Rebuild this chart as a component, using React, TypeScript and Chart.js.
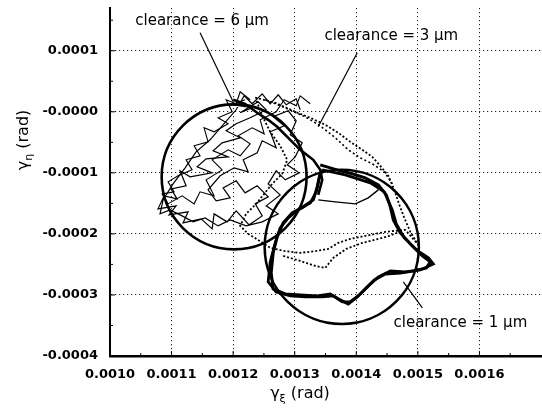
import { useEffect, useRef } from 'react';
import { Chart, registerables } from 'chart.js';

Chart.register(...registerables);

// ---- axis ticks ----
const xTickValues = [0.001, 0.0011, 0.0012, 0.0013, 0.0014, 0.0015, 0.0016];
const xTickLabels = ['0.0010', '0.0011', '0.0012', '0.0013', '0.0014', '0.0015', '0.0016'];
const yTickValues = [-0.0004, -0.0003, -0.0002, -0.0001, 0, 0.0001];
const yTickLabels = ['-0.0004', '-0.0003', '-0.0002', '-0.0001', '-0.0000', '0.0001'];

// ---- clearance circles (centre, radius in rad) ----
const circleCx = [0.0012016, 0.0013764];
const circleCy = [-0.0001066, -0.0002213];
const circleR = [0.0001177, 0.0001252];

// ---- clearance = 6 um trajectory ----
const traj6X = [
  0.0012195, 0.0011984, 0.0012309, 0.0012114, 0.0012406, 0.0012537, 0.0012276, 0.0012049, 0.0011886, 0.0012114,
  0.0011821, 0.0011675, 0.0011919, 0.0011561, 0.0011415, 0.0011659, 0.0011301, 0.0011138, 0.0011236, 0.0010992,
  0.0011089, 0.0010878, 0.001078, 0.0011073, 0.0010959, 0.0011268, 0.0011187, 0.001148, 0.0011659, 0.0011691,
  0.0011902, 0.0012049, 0.001226, 0.0012472, 0.0012358, 0.0012569, 0.001239, 0.0012195, 0.0012049, 0.0011837,
  0.0011951, 0.0011724, 0.0011593, 0.0011789, 0.0012016, 0.0012244, 0.0012163, 0.001239, 0.0012472, 0.0012699,
  0.0012602, 0.0012829, 0.001265, 0.0012894, 0.0013024, 0.0012927, 0.0013122, 0.0013008, 0.0012878, 0.0013073,
  0.0012846, 0.0012699, 0.0012569, 0.0012764, 0.0012537, 0.0012732, 0.0012472, 0.0012211, 0.0011951, 0.0011756,
  0.0011545, 0.001135, 0.0011171, 0.0010976, 0.0010813, 0.0010862, 0.0011024, 0.001122, 0.0011398, 0.0011626,
  0.0011821, 0.0012049, 0.0012179, 0.0012309, 0.0012472, 0.0012602, 0.0012732, 0.0012862, 0.0013024, 0.0013089,
];
const traj6Y = [
  0.0000197, 0.0000115, 0.0000066, -0.0000016, 0.0000164, 0.0000033, -0.0000098, -0.0000197, -0.0000311, -0.0000426,
  -0.0000508, -0.0000639, -0.0000738, -0.000077, -0.0000902, -0.0001, -0.0001066, -0.0000967, -0.0001213, -0.0001262,
  -0.0001426, -0.0001377, -0.000159, -0.0001541, -0.0001689, -0.0001639, -0.000182, -0.0001754, -0.0001918, -0.0001672,
  -0.0001803, -0.0001623, -0.0001852, -0.0001705, -0.0001508, -0.0001393, -0.0001213, -0.0001328, -0.0001131, -0.0001246,
  -0.000141, -0.0001459, -0.0001279, -0.0001049, -0.0000918, -0.0000984, -0.0000787, -0.0000672, -0.0000475, -0.000059,
  -0.0000328, -0.000023, -0.0000082, 0.0000016, -0.0000148, -0.0000377, -0.0000508, -0.0000738, -0.0000869, -0.0001,
  -0.0001115, -0.0000967, -0.000118, -0.0001361, -0.0001541, -0.0001672, -0.0001803, -0.0001869, -0.000177, -0.0001869,
  -0.0001738, -0.0001803, -0.0001705, -0.0001607, -0.0001672, -0.0001443, -0.000118, -0.0000918, -0.0000656, -0.0000459,
  -0.000023, 0.0000033, 0.0000262, 0.0000131, 0.0000295, 0.0000131, 0.0000279, 0.0000115, 0.0000213, 0.0000033,
];
const traj6bX = [
  0.0012276, 0.0012114, 0.0012049, 0.0011886, 0.0011984, 0.0011756, 0.0011919, 0.0011691, 0.0011528, 0.0011593,
  0.0011366, 0.0011463, 0.0011236, 0.0011333, 0.0011106, 0.0010943, 0.0011041, 0.0010846, 0.0010943, 0.0011171,
  0.0011366, 0.0011463, 0.0011691, 0.0011561, 0.0011821, 0.0011659, 0.0011919, 0.0012114, 0.0012276, 0.0012081,
  0.0012309, 0.0012504, 0.0012439, 0.0012699, 0.0012829, 0.0013024, 0.0013089, 0.0013252,
];
const traj6bY = [
  0.0000197, 0.0000328, 0.0000131, 0.0000197, 0, -0.0000098, -0.0000197, -0.0000328, -0.0000262, -0.0000492,
  -0.0000557, -0.0000721, -0.0000787, -0.0000951, -0.0001049, -0.0001148, -0.0001311, -0.0001344, -0.0001508, -0.0001377,
  -0.0001508, -0.0001311, -0.0001377, -0.0001115, -0.0000951, -0.0000787, -0.0000623, -0.0000721, -0.0000525, -0.0000393,
  -0.0000262, -0.0000361, -0.0000131, 0, 0.0000197, 0.0000098, 0.0000262, 0.0000131,
];

// ---- clearance = 3 um trajectory (dotted) ----
const traj3X = [
  0.0012358, 0.0012683, 0.0013008, 0.0013252, 0.0013496, 0.0013707, 0.0013902, 0.0014098, 0.001426, 0.001439,
  0.001452, 0.0014618, 0.0014699, 0.001478, 0.0014878, 0.0015008, 0.0014797, 0.0014472, 0.0014146, 0.0013902,
  0.0013707, 0.0013545, 0.001335, 0.0013089, 0.0012829, 0.0012602, 0.0012406, 0.0012244, 0.0012114, 0.0012211,
  0.0012374, 0.0012504, 0.0012634, 0.0012797, 0.0012878, 0.0012764, 0.0012602, 0.0012472, 0.0012374,
];
const traj3Y = [
  0.000023, 0.0000148, 0, -0.0000098, -0.0000213, -0.0000344, -0.0000492, -0.0000623, -0.0000738, -0.0000885,
  -0.0001049, -0.0001279, -0.0001525, -0.0001738, -0.0001967, -0.000218, -0.0001934, -0.0001967, -0.0002033, -0.0002082,
  -0.0002147, -0.0002246, -0.0002279, -0.0002311, -0.0002279, -0.0002229, -0.0002098, -0.0002, -0.0001869, -0.0001672,
  -0.0001508, -0.0001344, -0.000118, -0.0001016, -0.0000787, -0.0000557, -0.0000328, -0.0000066, 0.0000197,
];
const traj3bX = [0.0012813, 0.0013089, 0.0013333, 0.0013496, 0.0013626, 0.0013837, 0.0014098, 0.0014488, 0.0014748];
const traj3bY = [-0.0002361, -0.0002443, -0.0002525, -0.0002557, -0.0002393, -0.0002246, -0.0002147, -0.0002049, -0.0001951];
const traj3cX = [0.001252, 0.0012846, 0.0013171, 0.0013415, 0.0013659, 0.001387, 0.0014065, 0.001426, 0.0014455, 0.0014585];
const traj3cY = [0.0000197, 0.0000066, -0.0000082, -0.000023, -0.0000426, -0.0000623, -0.0000754, -0.0000852, -0.0000984, -0.000118];

// ---- clearance = 1 um trajectory (thick, two laps) ----
const traj1aX = [
  0.0013415, 0.0013577, 0.001374, 0.0013935, 0.0014146, 0.0014358, 0.0014488, 0.0014553, 0.0014602, 0.0014715,
  0.0014911, 0.0015073, 0.0015203, 0.0015138, 0.0014943, 0.0014715, 0.0014472, 0.0014293, 0.0014163, 0.0014016,
  0.001387, 0.001374, 0.0013577, 0.0013366, 0.0013089, 0.0012846, 0.001265, 0.0012618, 0.001265, 0.0012715,
  0.0012813, 0.0012959, 0.0013138, 0.0013301, 0.0013366, 0.0013415,
];
const traj1aY = [
  -0.0000869, -0.0000918, -0.0000967, -0.0001016, -0.0001082, -0.0001197, -0.0001361, -0.0001557, -0.000177, -0.0001984,
  -0.0002197, -0.0002361, -0.0002459, -0.0002557, -0.0002606, -0.0002639, -0.0002656, -0.0002754, -0.0002885, -0.0003033,
  -0.0003148, -0.0003082, -0.0002984, -0.0003016, -0.0003, -0.0002984, -0.0002902, -0.0002639, -0.0002311, -0.0002049,
  -0.000182, -0.0001656, -0.0001557, -0.0001443, -0.0001229, -0.0001,
];
const traj1bX = [
  0.0013447, 0.0013821, 0.0014228, 0.0014455, 0.0014585, 0.001465, 0.001478, 0.0014976, 0.0015171, 0.0015252,
  0.0015041, 0.0014797, 0.0014553, 0.0014358, 0.0014195, 0.0014065, 0.0013902, 0.0013772, 0.0013626, 0.0013447,
  0.0013171, 0.0012927, 0.0012699, 0.0012569, 0.0012602, 0.0012683, 0.0012764, 0.0012894, 0.0013057, 0.0013252,
  0.001335, 0.0013398, 0.0013447,
];
const traj1bY = [
  -0.0000951, -0.0001033, -0.0001164, -0.0001311, -0.0001607, -0.0001836, -0.0002066, -0.0002262, -0.0002393, -0.0002492,
  -0.000259, -0.0002623, -0.0002606, -0.0002705, -0.0002852, -0.0002984, -0.0003115, -0.0003115, -0.0003016, -0.0003033,
  -0.0003033, -0.0003016, -0.0002951, -0.0002787, -0.0002459, -0.0002147, -0.0001902, -0.0001738, -0.0001607, -0.0001492,
  -0.0001311, -0.0001082, -0.0000951,
];
const traj1cX = [0.0013382, 0.0013659, 0.0013984, 0.0014195, 0.0014358];
const traj1cY = [-0.0001443, -0.0001475, -0.0001508, -0.000141, -0.0001279];
const traj1dX = [0.0012, 0.0012195, 0.001239, 0.0012569, 0.0012715, 0.0012927, 0.0013089, 0.0013301, 0.0013415, 0.0013447, 0.0013382];
const traj1dY = [0.0000197, 0.0000131, -0.0000016, -0.0000131, -0.0000246, -0.0000459, -0.0000623, -0.0000787, -0.0000951, -0.0001115, -0.0001361];

// ---- annotations ----
const annotTexts = ['clearance = 6 \u00b5m', 'clearance = 3 \u00b5m', 'clearance = 1 \u00b5m'];
const annotX = [0.0011496, 0.0014569, 0.0015691];
const annotY = [0.0001492, 0.0001246, -0.0003459];
const leaderX1 = [0.0011463, 0.0014016, 0.0015073];
const leaderY1 = [0.0001295, 0.0000967, -0.0003213];
const leaderX2 = [0.0012, 0.0013382, 0.0014764];
const leaderY2 = [0.0000164, -0.0000246, -0.0002787];

const pts = (xs: number[], ys: number[]) => xs.map((x, i) => ({ x, y: ys[i] }));

const overlayPlugin = {
  id: 'overlay',
  afterDraw(chart: any) {
    const { ctx, chartArea } = chart;
    const xs = chart.scales.x;
    const ys = chart.scales.y;
    ctx.save();
    // inward major / minor ticks
    ctx.strokeStyle = '#000';
    ctx.lineWidth = 1;
    const xt = xs.ticks.map((t: any) => t.value);
    for (let i = 0; i < xt.length; i++) {
      const px = xs.getPixelForValue(xt[i]);
      ctx.beginPath(); ctx.moveTo(px, chartArea.bottom); ctx.lineTo(px, chartArea.bottom - 5); ctx.stroke();
      const nx = i + 1 < xt.length ? xt[i + 1] : xt[i] + (xt[1] - xt[0]);
      const mx = xs.getPixelForValue((xt[i] + nx) / 2);
      if (mx < chartArea.right) { ctx.beginPath(); ctx.moveTo(mx, chartArea.bottom); ctx.lineTo(mx, chartArea.bottom - 3); ctx.stroke(); }
    }
    const yt = ys.ticks.map((t: any) => t.value);
    for (let i = 0; i < yt.length; i++) {
      const py = ys.getPixelForValue(yt[i]);
      ctx.beginPath(); ctx.moveTo(chartArea.left, py); ctx.lineTo(chartArea.left + 5, py); ctx.stroke();
      const ny = i + 1 < yt.length ? yt[i + 1] : yt[i] + (yt[1] - yt[0]);
      const my = ys.getPixelForValue((yt[i] + ny) / 2);
      if (my > chartArea.top) { ctx.beginPath(); ctx.moveTo(chartArea.left, my); ctx.lineTo(chartArea.left + 3, my); ctx.stroke(); }
    }
    // leader lines
    ctx.lineWidth = 1.2;
    for (let i = 0; i < annotTexts.length; i++) {
      ctx.beginPath();
      ctx.moveTo(xs.getPixelForValue(leaderX1[i]), ys.getPixelForValue(leaderY1[i]));
      ctx.lineTo(xs.getPixelForValue(leaderX2[i]), ys.getPixelForValue(leaderY2[i]));
      ctx.stroke();
    }
    // annotation texts
    ctx.fillStyle = '#000';
    ctx.font = '15px "DejaVu Sans"';
    ctx.textAlign = 'center';
    ctx.textBaseline = 'middle';
    for (let i = 0; i < annotTexts.length; i++) {
      ctx.fillText(annotTexts[i], xs.getPixelForValue(annotX[i]), ys.getPixelForValue(annotY[i]));
    }
    // axis titles with subscripts
    const big = '16px "DejaVu Sans"';
    const small = '11px "DejaVu Sans"';
    const drawTitle = (sub: string, cx: number, cy: number, rot: number) => {
      ctx.save();
      ctx.translate(cx, cy);
      ctx.rotate(rot);
      ctx.font = big;
      const w1 = ctx.measureText('\u03b3').width;
      const w3 = ctx.measureText(' (rad)').width;
      ctx.font = small;
      const w2 = ctx.measureText(sub).width;
      const x0 = -(w1 + w2 + w3) / 2;
      ctx.textAlign = 'left';
      ctx.textBaseline = 'middle';
      ctx.font = big;
      ctx.fillText('\u03b3', x0, 0);
      ctx.font = small;
      ctx.fillText(sub, x0 + w1, 5);
      ctx.font = big;
      ctx.fillText(' (rad)', x0 + w1 + w2, 0);
      ctx.restore();
    };
    drawTitle('\u03be', chartArea.left + 190, chartArea.bottom + 38, 0);
    drawTitle('\u03b7', chartArea.left - 86, chartArea.top + 132, -Math.PI / 2);
    ctx.restore();
  },
};

export default function App() {
  const ref = useRef<HTMLCanvasElement | null>(null);
  useEffect(() => {
    document.body.style.margin = '0';
    const canvas = ref.current;
    if (!canvas) return;
    const line = (xs: number[], ys: number[], width: number, dash: number[] = []) => ({
      data: pts(xs, ys),
      showLine: true,
      borderColor: '#000',
      backgroundColor: '#000',
      borderWidth: width,
      borderDash: dash,
      pointRadius: 0,
      tension: 0,
    });
    const chart = new Chart(canvas, {
      type: 'scatter',
      data: {
        datasets: [
          line(traj6X, traj6Y, 1.2),
          line(traj6bX, traj6bY, 1.1),
          line(traj3X, traj3Y, 1.8, [2, 2]),
          line(traj3bX, traj3bY, 1.8, [2, 2]),
          line(traj3cX, traj3cY, 1.6, [2, 2.5]),
          line(traj1aX, traj1aY, 3),
          line(traj1bX, traj1bY, 2.8),
          line(traj1cX, traj1cY, 1.4),
          line(traj1dX, traj1dY, 2.6),
          {
            data: pts(circleCx, circleCy),
            showLine: false,
            pointRadius: (c: any) => {
              const s = c.chart.scales.x;
              const i = c.dataIndex;
              return Math.abs(s.getPixelForValue(circleCx[i] + circleR[i]) - s.getPixelForValue(circleCx[i]));
            },
            pointBorderWidth: 2.6,
            pointBorderColor: '#000',
            pointBackgroundColor: 'rgba(0,0,0,0)',
          } as any,
        ],
      },
      options: {
        animation: false,
        responsive: false,
        layout: { padding: { top: 8, right: 1, left: 0, bottom: 0 } },
        plugins: { legend: { display: false }, tooltip: { enabled: false } },
        events: [],
        scales: {
          x: {
            type: 'linear',
            min: 0.001,
            max: 0.0017,
            afterBuildTicks: (s: any) => { s.ticks = xTickValues.map((v) => ({ value: v })); },
            afterFit: (s: any) => { s.height = 56; s.paddingLeft = 0; s.paddingRight = 0; },
            ticks: {
              callback: (_v: any, i: number) => xTickLabels[i],
              color: '#000',
              padding: 11,
              font: { family: 'DejaVu Sans', size: 13, weight: 'bold' },
              maxRotation: 0,
            },
            grid: { color: '#222', lineWidth: 1, drawTicks: false },
            border: { color: '#000', width: 2.5, dash: [1.2, 2.8] },
          },
          y: {
            type: 'linear',
            min: -0.0004,
            max: 0.00017,
            afterBuildTicks: (s: any) => { s.ticks = yTickValues.map((v) => ({ value: v })); },
            afterFit: (s: any) => { s.width = 110; s.paddingTop = 0; s.paddingBottom = 0; },
            ticks: {
              callback: (_v: any, i: number) => yTickLabels[i],
              color: '#000',
              padding: 12,
              font: { family: 'DejaVu Sans', size: 13, weight: 'bold' },
            },
            grid: { color: '#222', lineWidth: 1, drawTicks: false },
            border: { color: '#000', width: 2, dash: [1.2, 2.8] },
          },
        },
      } as any,
      plugins: [overlayPlugin],
    });
    return () => chart.destroy();
  }, []);
  return <canvas ref={ref} width={542} height={412} style={{ display: 'block' }} />;
}
